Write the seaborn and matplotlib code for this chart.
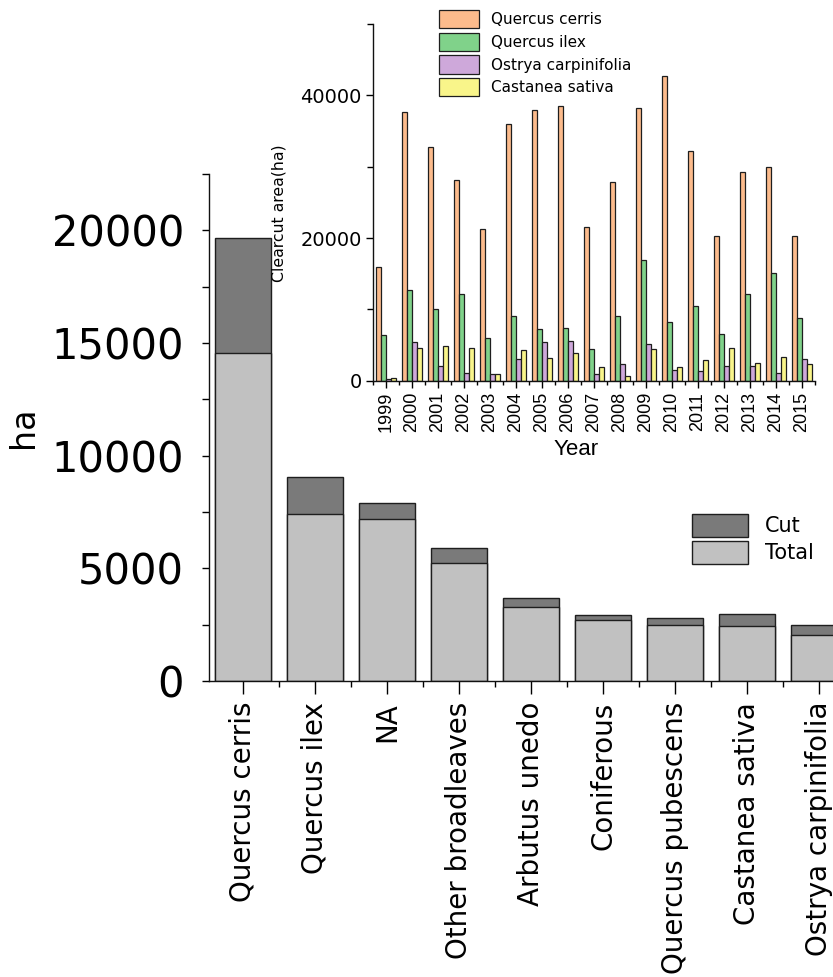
import pandas as pd
import matplotlib
matplotlib.use("Agg")
import matplotlib.pyplot as plt
from matplotlib.patches import Patch
from matplotlib.ticker import AutoMinorLocator, FixedLocator
import seaborn as sns

# Main chart: area per species (light = total part, dark = cut on top)
categories = ["Quercus cerris", "Quercus ilex", "NA", "Other broadleaves",
              "Arbutus unedo", "Coniferous", "Quercus pubescens",
              "Castanea sativa", "Ostrya carpinifolia"]
cut_top = [19650, 9050, 7920, 5880, 3690, 2920, 2810, 2960, 2490]
total_low = [14550, 7420, 7210, 5250, 3300, 2700, 2470, 2430, 2040]

# Inset: clearcut area per year
years = [str(y) for y in range(1999, 2016)]
quercus_cerris = [15900, 37700, 32800, 28200, 21300, 36000, 37900, 38500, 21500,
                  27900, 38200, 42700, 32200, 20300, 29300, 30000, 20300]
quercus_ilex = [6400, 12700, 10100, 12100, 6000, 9100, 7200, 7400, 4500,
                9100, 16900, 8200, 10500, 6500, 12200, 15100, 8800]
ostrya_carpinifolia = [300, 5400, 2000, 1100, 1000, 3000, 5400, 5500, 1000,
                       2300, 5200, 1500, 1400, 2000, 2000, 1100, 3000]
castanea_sativa = [350, 4600, 4900, 4600, 1000, 4300, 3200, 3900, 1900,
                   700, 4400, 1900, 2900, 4600, 2500, 3300, 2300]
species = ["Quercus cerris", "Quercus ilex", "Ostrya carpinifolia", "Castanea sativa"]

sns.set_style("ticks")
plt.rcParams["font.family"] = ["DejaVu Sans"]
plt.rcParams["text.color"] = "black"
plt.rcParams["axes.labelcolor"] = "black"
plt.rcParams["xtick.color"] = "black"
plt.rcParams["ytick.color"] = "black"

dark = "#7a7a7a"
light = "#c1c1c1"
edge = "#1e1e1e"
palette = ["#fcbb8c", "#80d28a", "#cea8da", "#f9f58a"]

fig = plt.figure(figsize=(8.33, 9.77), dpi=100)
ax = fig.add_axes([0.2509, 0.3030, 0.7491, 0.5189])

sns.barplot(x=categories, y=cut_top, color=dark, saturation=1, width=0.78,
            edgecolor=edge, linewidth=1, ax=ax)
sns.barplot(x=categories, y=total_low, color=light, saturation=1, width=0.78,
            edgecolor=edge, linewidth=1, ax=ax)

ax.set_xlim(-0.47, 8.19)
ax.set_ylim(0, 22500)
ax.set_yticks([0, 5000, 10000, 15000, 20000])
ax.yaxis.set_minor_locator(AutoMinorLocator(2))
ax.xaxis.set_minor_locator(FixedLocator([i + 0.5 for i in range(-1, 9)]))
ax.tick_params(axis="y", which="major", labelsize=30, length=5, width=1, pad=13)
ax.tick_params(axis="y", which="minor", length=5, width=1)
ax.tick_params(axis="x", which="major", labelsize=20, length=9, width=1, pad=6,
               labelrotation=90)
ax.tick_params(axis="x", which="minor", length=4, width=1)
ax.set_ylabel("ha", fontsize=24, labelpad=8)
ax.set_xlabel("")
for s in ["top", "right"]:
    ax.spines[s].set_visible(False)
for s in ["left", "bottom"]:
    ax.spines[s].set_linewidth(1)
    ax.spines[s].set_color("#111111")

handles = [Patch(facecolor=dark, edgecolor=edge, linewidth=1, label="Cut"),
           Patch(facecolor=light, edgecolor=edge, linewidth=1, label="Total")]
fig.legend(handles=handles, loc="upper left", bbox_to_anchor=(692 / 833, 1 - 514 / 977),
           frameon=False, fontsize=15, handlelength=2.7, handleheight=1.3,
           labelspacing=0.2, handletextpad=0.8, borderpad=0, borderaxespad=0)

# Inset
ax_in = fig.add_axes([0.4478, 0.6103, 0.5306, 0.3651])
ax_in.patch.set_alpha(0)
df = pd.DataFrame({
    "Year": years * 4,
    "Area": quercus_cerris + quercus_ilex + ostrya_carpinifolia + castanea_sativa,
    "Species": [s for s in species for _ in years],
})
sns.barplot(data=df, x="Year", y="Area", hue="Species", hue_order=species,
            palette=palette, saturation=1, width=0.8, edgecolor=edge,
            linewidth=0.9, ax=ax_in)
ax_in.set_xlim(-0.5, 16.5)
ax_in.set_ylim(0, 50000)
ax_in.set_yticks([0, 20000, 40000])
ax_in.yaxis.set_minor_locator(AutoMinorLocator(2))
ax_in.xaxis.set_minor_locator(FixedLocator([i + 0.5 for i in range(-1, 17)]))
ax_in.tick_params(axis="y", which="major", labelsize=14, length=5, width=1, pad=3)
ax_in.tick_params(axis="y", which="minor", length=4, width=1)
ax_in.tick_params(axis="x", which="major", length=5, width=1, pad=3)
ax_in.tick_params(axis="x", which="minor", length=3, width=1)
for lab in ax_in.get_xticklabels():
    lab.set_rotation(90)
    lab.set_fontsize(13)
    lab.set_family(["Liberation Sans", "DejaVu Sans"])
ax_in.set_xlabel("Year", fontsize=16, family=["Liberation Sans", "DejaVu Sans"], va="top")
ax_in.xaxis.set_label_coords(0.46, -0.163)
ax_in.set_ylabel("Clearcut area(ha)", fontsize=11.3)
ax_in.yaxis.set_label_coords(-0.196, 0.47)
for s in ["top", "right"]:
    ax_in.spines[s].set_visible(False)
for s in ["left", "bottom"]:
    ax_in.spines[s].set_linewidth(1)
    ax_in.spines[s].set_color("#111111")

h, l = ax_in.get_legend_handles_labels()
ax_in.legend(h, l, loc="upper left", bbox_to_anchor=(439 / 833, 1 - 10 / 977),
             bbox_transform=fig.transFigure, frameon=False, fontsize=11,
             handlelength=2.6, handleheight=1.45, labelspacing=0.3,
             handletextpad=0.8, borderpad=0, borderaxespad=0)

fig.savefig("out.png", dpi=100)
plt.close(fig)
